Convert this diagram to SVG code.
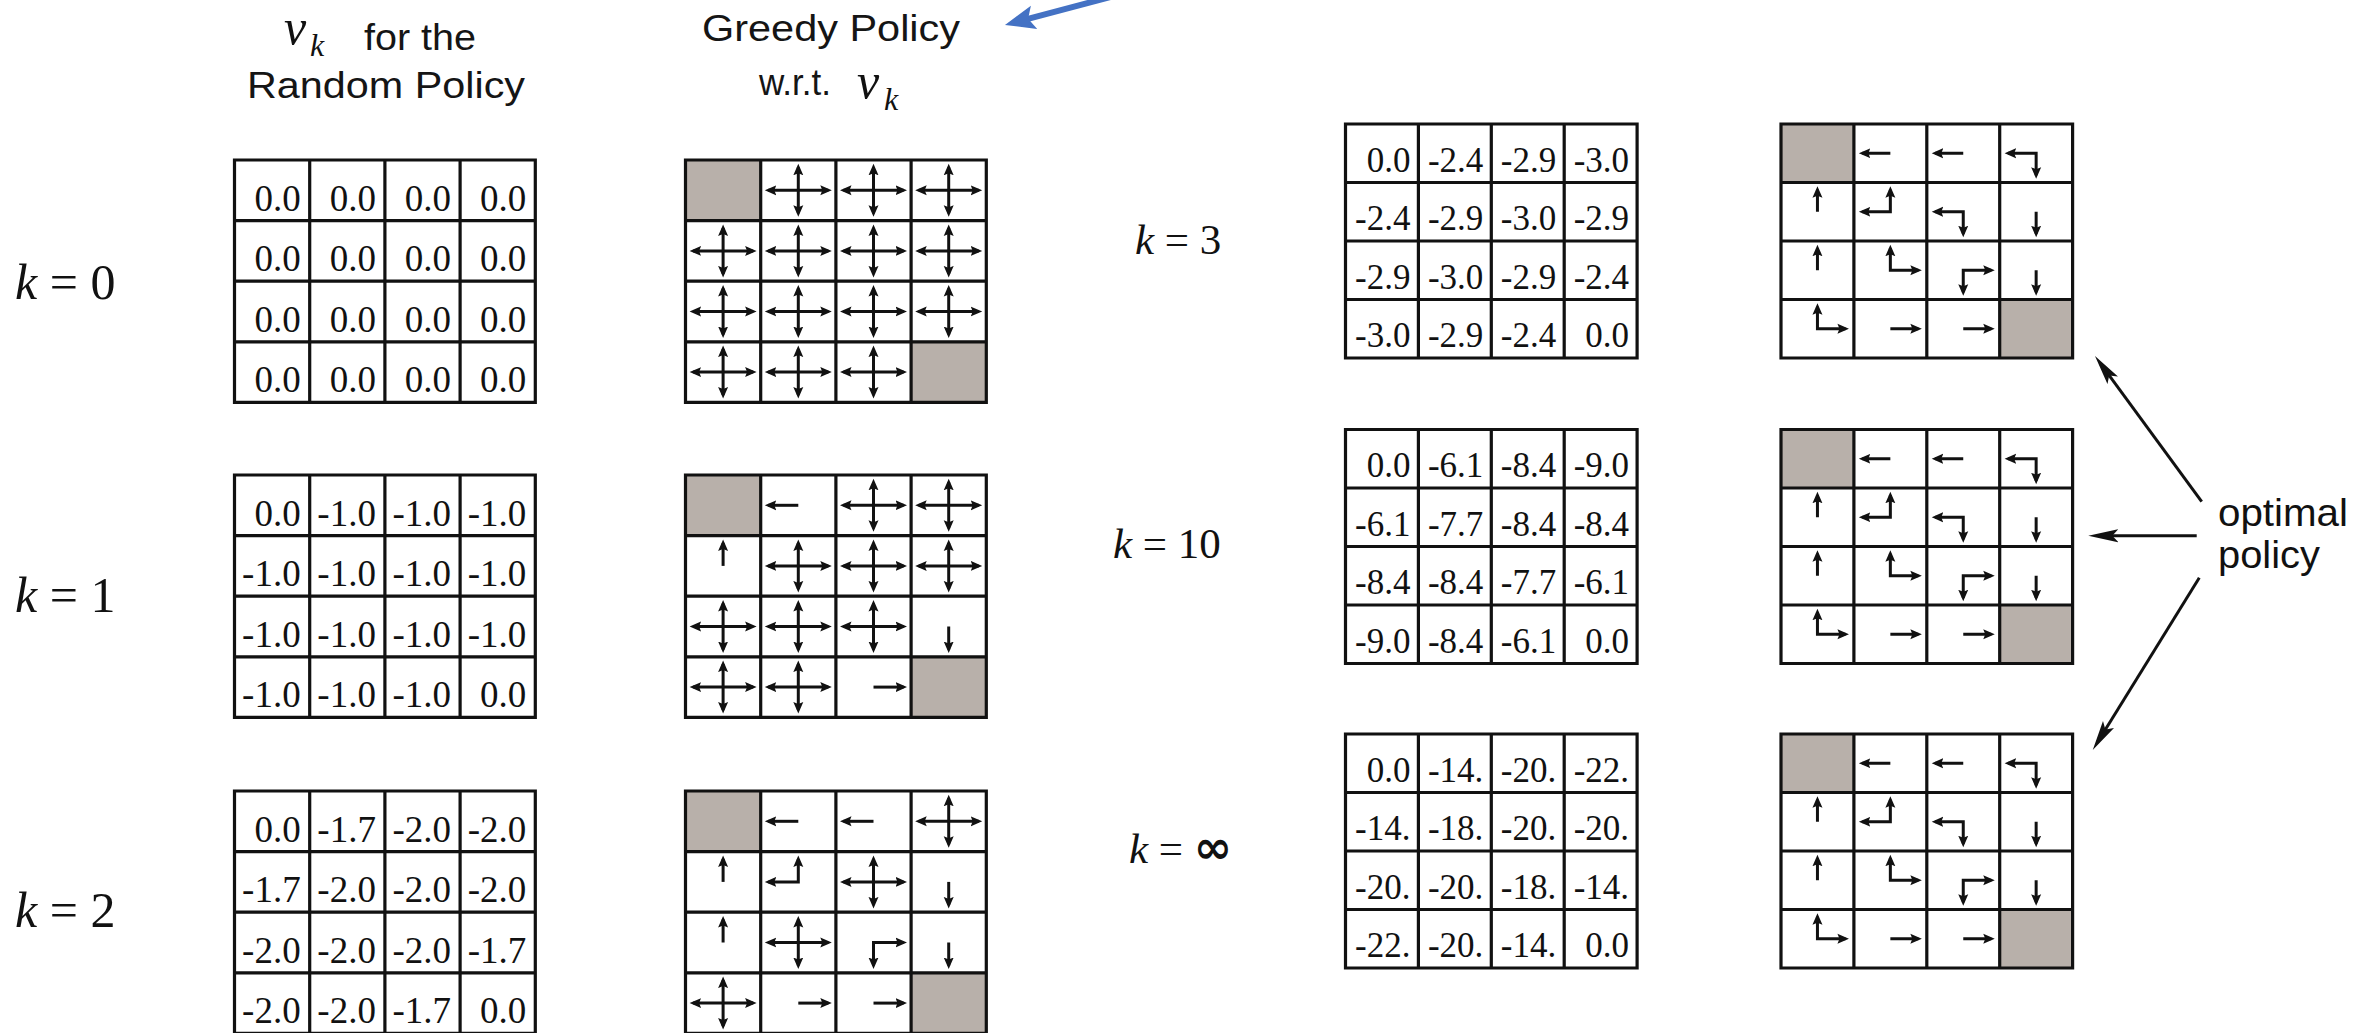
<svg xmlns="http://www.w3.org/2000/svg" width="2374" height="1033" viewBox="0 0 2374 1033">
<style>
.bg{fill:#fff}
.gray{fill:#b8b0aa}
.gb{fill:none;stroke:#111;stroke-width:3.2}
.v{font-family:"Liberation Serif","Times New Roman",serif;font-size:37px;fill:#111;text-anchor:end}
.vr{font-size:35px}
.a1,.a2{fill:none;stroke:#111;stroke-width:3}
.a1{marker-end:url(#ah)}
.a2{marker-start:url(#ah);marker-end:url(#ah)}
.hd{font-family:"Liberation Sans",Arial,sans-serif;font-size:36px;fill:#151515}
.mv{font-family:"Liberation Serif","Times New Roman",serif;font-style:italic;font-size:50px;fill:#111}
.mk{font-family:"Liberation Serif","Times New Roman",serif;font-style:italic;font-size:32px;fill:#111}
.kl{font-family:"Liberation Serif","Times New Roman",serif;font-size:43px;fill:#111}
.kb{font-size:50px}
.op{font-family:"Liberation Sans",Arial,sans-serif;font-size:39px;fill:#111}
.con{fill:none;stroke:#111;stroke-width:3;marker-end:url(#bh)}
.blue{fill:none;stroke:#4472c4;stroke-width:6;marker-end:url(#blh)}
</style>
<defs>
<marker id="ah" viewBox="0 -6 12 12" refX="8" refY="0" markerWidth="12" markerHeight="12" markerUnits="userSpaceOnUse" orient="auto-start-reverse"><path d="M0,-5L11.5,0L0,5L2,0z" fill="#111"/></marker>
<marker id="bh" viewBox="0 -7 30 14" refX="20" refY="0" markerWidth="30" markerHeight="14" markerUnits="userSpaceOnUse" orient="auto"><path d="M0,-6.5L30,0L0,6.5L6,0z" fill="#111"/></marker>
<marker id="blh" viewBox="0 -13 30 26" refX="16" refY="0" markerWidth="30" markerHeight="26" markerUnits="userSpaceOnUse" orient="auto"><path d="M0,-12L30,0L0,12L6,0z" fill="#4472c4"/></marker>
<g id="gl"><rect class="bg" x="0" y="0" width="300.8" height="242.4"/></g>
<path id="gll" class="gb" d="M0,0H300.8V242.4H0ZM75.2,0V242.4M150.4,0V242.4M225.6,0V242.4M0,60.6H300.8M0,121.2H300.8M0,181.8H300.8"/>
<path id="grl" class="gb" d="M0,0H291.6V234H0ZM72.9,0V234M145.8,0V234M218.7,0V234M0,58.5H291.6M0,117H291.6M0,175.5H291.6"/>
<g id="L4"><path class="a2" d="M-30,0H30"/><path class="a2" d="M0,-23V23"/></g>
<path id="Ll" class="a1" d="M0,0H-30"/>
<path id="Lr" class="a1" d="M0,0H30"/>
<path id="Lu" class="a1" d="M0,0V-23"/>
<path id="Ld" class="a1" d="M0,0V23"/>
<path id="Llu" class="a2" d="M-30,0H0V-23"/>
<path id="Ldr" class="a2" d="M0,23V0H30"/>
<path id="Rl" class="a1" d="M0,0H-28"/>
<path id="Rr" class="a1" d="M0,0H28"/>
<path id="Ru" class="a1" d="M0,0V-22"/>
<path id="Rd" class="a1" d="M0,0V22"/>
<path id="Rlu" class="a2" d="M-28,0H0V-22"/>
<path id="Rld" class="a2" d="M-28,0H0V22"/>
<path id="Rur" class="a2" d="M0,-22V0H28"/>
<path id="Rdr" class="a2" d="M0,22V0H28"/>
<g id="rp">
<rect class="bg" x="0" y="0" width="291.6" height="234"/>
<rect class="gray" x="0" y="0" width="72.9" height="58.5"/>
<rect class="gray" x="218.7" y="175.5" width="72.9" height="58.5"/>
<use href="#Rl" x="109.35" y="29.25"/><use href="#Rl" x="182.25" y="29.25"/><use href="#Rld" x="255.15" y="29.25"/>
<use href="#Ru" x="36.45" y="87.75"/><use href="#Rlu" x="109.35" y="87.75"/><use href="#Rld" x="182.25" y="87.75"/><use href="#Rd" x="255.15" y="87.75"/>
<use href="#Ru" x="36.45" y="146.25"/><use href="#Rur" x="109.35" y="146.25"/><use href="#Rdr" x="182.25" y="146.25"/><use href="#Rd" x="255.15" y="146.25"/>
<use href="#Rur" x="36.45" y="204.75"/><use href="#Rr" x="109.35" y="204.75"/><use href="#Rr" x="182.25" y="204.75"/>
<use href="#grl"/>
</g>
</defs>
<rect x="0" y="0" width="2374" height="1033" fill="#fff"/>

<g id="headers">
<text class="mv" x="284" y="44">v</text><text class="mk" x="310" y="56">k</text>
<text class="hd" x="364" y="50" textLength="112" lengthAdjust="spacingAndGlyphs">for the</text>
<text class="hd" x="247" y="98" textLength="278" lengthAdjust="spacingAndGlyphs">Random Policy</text>
<text class="hd" x="702" y="41" textLength="258" lengthAdjust="spacingAndGlyphs">Greedy Policy</text>
<text class="hd" x="759" y="95" textLength="72" lengthAdjust="spacingAndGlyphs">w.r.t.</text>
<text class="mv" x="857" y="98">v</text><text class="mk" x="884" y="110">k</text>
</g>

<g id="labels">
<text class="kl kb" x="15" y="299"><tspan font-style="italic">k</tspan> = 0</text>
<text class="kl kb" x="15" y="612"><tspan font-style="italic">k</tspan> = 1</text>
<text class="kl kb" x="15" y="927"><tspan font-style="italic">k</tspan> = 2</text>
<text class="kl" x="1135" y="254"><tspan font-style="italic">k</tspan> = 3</text>
<text class="kl" x="1113" y="558"><tspan font-style="italic">k</tspan> = 10</text>
<text class="kl" x="1129" y="863"><tspan font-style="italic">k</tspan> = <tspan font-family="DejaVu Sans, sans-serif" font-weight="bold" font-size="46">∞</tspan></text>
</g>

<g id="v0" transform="translate(234.5,160)">
<use href="#gl"/>
<text class="v" y="50.6"><tspan x="66.2">0.0</tspan><tspan x="141.4">0.0</tspan><tspan x="216.6">0.0</tspan><tspan x="291.8">0.0</tspan></text>
<text class="v" y="111.2"><tspan x="66.2">0.0</tspan><tspan x="141.4">0.0</tspan><tspan x="216.6">0.0</tspan><tspan x="291.8">0.0</tspan></text>
<text class="v" y="171.8"><tspan x="66.2">0.0</tspan><tspan x="141.4">0.0</tspan><tspan x="216.6">0.0</tspan><tspan x="291.8">0.0</tspan></text>
<text class="v" y="232.4"><tspan x="66.2">0.0</tspan><tspan x="141.4">0.0</tspan><tspan x="216.6">0.0</tspan><tspan x="291.8">0.0</tspan></text>
<use href="#gll"/>
</g>

<g id="v1" transform="translate(234.5,475)">
<use href="#gl"/>
<text class="v" y="50.6"><tspan x="66.2">0.0</tspan><tspan x="141.4">-1.0</tspan><tspan x="216.6">-1.0</tspan><tspan x="291.8">-1.0</tspan></text>
<text class="v" y="111.2"><tspan x="66.2">-1.0</tspan><tspan x="141.4">-1.0</tspan><tspan x="216.6">-1.0</tspan><tspan x="291.8">-1.0</tspan></text>
<text class="v" y="171.8"><tspan x="66.2">-1.0</tspan><tspan x="141.4">-1.0</tspan><tspan x="216.6">-1.0</tspan><tspan x="291.8">-1.0</tspan></text>
<text class="v" y="232.4"><tspan x="66.2">-1.0</tspan><tspan x="141.4">-1.0</tspan><tspan x="216.6">-1.0</tspan><tspan x="291.8">0.0</tspan></text>
<use href="#gll"/>
</g>

<g id="v2" transform="translate(234.5,791)">
<use href="#gl"/>
<text class="v" y="50.6"><tspan x="66.2">0.0</tspan><tspan x="141.4">-1.7</tspan><tspan x="216.6">-2.0</tspan><tspan x="291.8">-2.0</tspan></text>
<text class="v" y="111.2"><tspan x="66.2">-1.7</tspan><tspan x="141.4">-2.0</tspan><tspan x="216.6">-2.0</tspan><tspan x="291.8">-2.0</tspan></text>
<text class="v" y="171.8"><tspan x="66.2">-2.0</tspan><tspan x="141.4">-2.0</tspan><tspan x="216.6">-2.0</tspan><tspan x="291.8">-1.7</tspan></text>
<text class="v" y="232.4"><tspan x="66.2">-2.0</tspan><tspan x="141.4">-2.0</tspan><tspan x="216.6">-1.7</tspan><tspan x="291.8">0.0</tspan></text>
<use href="#gll"/>
</g>

<g id="p0" transform="translate(685.5,160)">
<use href="#gl"/>
<rect class="gray" x="0" y="0" width="75.2" height="60.6"/>
<rect class="gray" x="225.6" y="181.8" width="75.2" height="60.6"/>
<use href="#L4" x="112.8" y="30.3"/><use href="#L4" x="188" y="30.3"/><use href="#L4" x="263.2" y="30.3"/>
<use href="#L4" x="37.6" y="90.9"/><use href="#L4" x="112.8" y="90.9"/><use href="#L4" x="188" y="90.9"/><use href="#L4" x="263.2" y="90.9"/>
<use href="#L4" x="37.6" y="151.5"/><use href="#L4" x="112.8" y="151.5"/><use href="#L4" x="188" y="151.5"/><use href="#L4" x="263.2" y="151.5"/>
<use href="#L4" x="37.6" y="212.1"/><use href="#L4" x="112.8" y="212.1"/><use href="#L4" x="188" y="212.1"/>
<use href="#gll"/>
</g>

<g id="p1" transform="translate(685.5,475)">
<use href="#gl"/>
<rect class="gray" x="0" y="0" width="75.2" height="60.6"/>
<rect class="gray" x="225.6" y="181.8" width="75.2" height="60.6"/>
<use href="#Ll" x="112.8" y="30.3"/><use href="#L4" x="188" y="30.3"/><use href="#L4" x="263.2" y="30.3"/>
<use href="#Lu" x="37.6" y="90.9"/><use href="#L4" x="112.8" y="90.9"/><use href="#L4" x="188" y="90.9"/><use href="#L4" x="263.2" y="90.9"/>
<use href="#L4" x="37.6" y="151.5"/><use href="#L4" x="112.8" y="151.5"/><use href="#L4" x="188" y="151.5"/><use href="#Ld" x="263.2" y="151.5"/>
<use href="#L4" x="37.6" y="212.1"/><use href="#L4" x="112.8" y="212.1"/><use href="#Lr" x="188" y="212.1"/>
<use href="#gll"/>
</g>

<g id="p2" transform="translate(685.5,791)">
<use href="#gl"/>
<rect class="gray" x="0" y="0" width="75.2" height="60.6"/>
<rect class="gray" x="225.6" y="181.8" width="75.2" height="60.6"/>
<use href="#Ll" x="112.8" y="30.3"/><use href="#Ll" x="188" y="30.3"/><use href="#L4" x="263.2" y="30.3"/>
<use href="#Lu" x="37.6" y="90.9"/><use href="#Llu" x="112.8" y="90.9"/><use href="#L4" x="188" y="90.9"/><use href="#Ld" x="263.2" y="90.9"/>
<use href="#Lu" x="37.6" y="151.5"/><use href="#L4" x="112.8" y="151.5"/><use href="#Ldr" x="188" y="151.5"/><use href="#Ld" x="263.2" y="151.5"/>
<use href="#L4" x="37.6" y="212.1"/><use href="#Lr" x="112.8" y="212.1"/><use href="#Lr" x="188" y="212.1"/>
<use href="#gll"/>
</g>

<g id="v3" transform="translate(1345.5,124)">
<rect class="bg" x="0" y="0" width="291.6" height="234"/>
<text class="v vr" y="47.5"><tspan x="64.9">0.0</tspan><tspan x="137.8">-2.4</tspan><tspan x="210.7">-2.9</tspan><tspan x="283.6">-3.0</tspan></text>
<text class="v vr" y="106"><tspan x="64.9">-2.4</tspan><tspan x="137.8">-2.9</tspan><tspan x="210.7">-3.0</tspan><tspan x="283.6">-2.9</tspan></text>
<text class="v vr" y="164.5"><tspan x="64.9">-2.9</tspan><tspan x="137.8">-3.0</tspan><tspan x="210.7">-2.9</tspan><tspan x="283.6">-2.4</tspan></text>
<text class="v vr" y="223"><tspan x="64.9">-3.0</tspan><tspan x="137.8">-2.9</tspan><tspan x="210.7">-2.4</tspan><tspan x="283.6">0.0</tspan></text>
<use href="#grl"/>
</g>

<g id="v10" transform="translate(1345.5,429.5)">
<rect class="bg" x="0" y="0" width="291.6" height="234"/>
<text class="v vr" y="47.5"><tspan x="64.9">0.0</tspan><tspan x="137.8">-6.1</tspan><tspan x="210.7">-8.4</tspan><tspan x="283.6">-9.0</tspan></text>
<text class="v vr" y="106"><tspan x="64.9">-6.1</tspan><tspan x="137.8">-7.7</tspan><tspan x="210.7">-8.4</tspan><tspan x="283.6">-8.4</tspan></text>
<text class="v vr" y="164.5"><tspan x="64.9">-8.4</tspan><tspan x="137.8">-8.4</tspan><tspan x="210.7">-7.7</tspan><tspan x="283.6">-6.1</tspan></text>
<text class="v vr" y="223"><tspan x="64.9">-9.0</tspan><tspan x="137.8">-8.4</tspan><tspan x="210.7">-6.1</tspan><tspan x="283.6">0.0</tspan></text>
<use href="#grl"/>
</g>

<g id="vinf" transform="translate(1345.5,734)">
<rect class="bg" x="0" y="0" width="291.6" height="234"/>
<text class="v vr" y="47.5"><tspan x="64.9">0.0</tspan><tspan x="137.8">-14.</tspan><tspan x="210.7">-20.</tspan><tspan x="283.6">-22.</tspan></text>
<text class="v vr" y="106"><tspan x="64.9">-14.</tspan><tspan x="137.8">-18.</tspan><tspan x="210.7">-20.</tspan><tspan x="283.6">-20.</tspan></text>
<text class="v vr" y="164.5"><tspan x="64.9">-20.</tspan><tspan x="137.8">-20.</tspan><tspan x="210.7">-18.</tspan><tspan x="283.6">-14.</tspan></text>
<text class="v vr" y="223"><tspan x="64.9">-22.</tspan><tspan x="137.8">-20.</tspan><tspan x="210.7">-14.</tspan><tspan x="283.6">0.0</tspan></text>
<use href="#grl"/>
</g>

<g id="p3" transform="translate(1781,124)"><use href="#rp"/></g>
<g id="p10" transform="translate(1781,429.5)"><use href="#rp"/></g>
<g id="pinf" transform="translate(1781,734)"><use href="#rp"/></g>

<g id="optimal">
<text class="op" x="2218" y="526" textLength="130" lengthAdjust="spacingAndGlyphs">optimal</text>
<text class="op" x="2218" y="568" textLength="102" lengthAdjust="spacingAndGlyphs">policy</text>
</g>

<g id="connectors">
<path class="con" d="M2201.7,501.7L2100.9,364.1"/>
<path class="con" d="M2196.7,535.7L2098.3,535.7"/>
<path class="con" d="M2199.3,577.7L2098,741.5"/>
<path class="blue" d="M1118,-5L1018.5,21.4"/>
</g>
</svg>
